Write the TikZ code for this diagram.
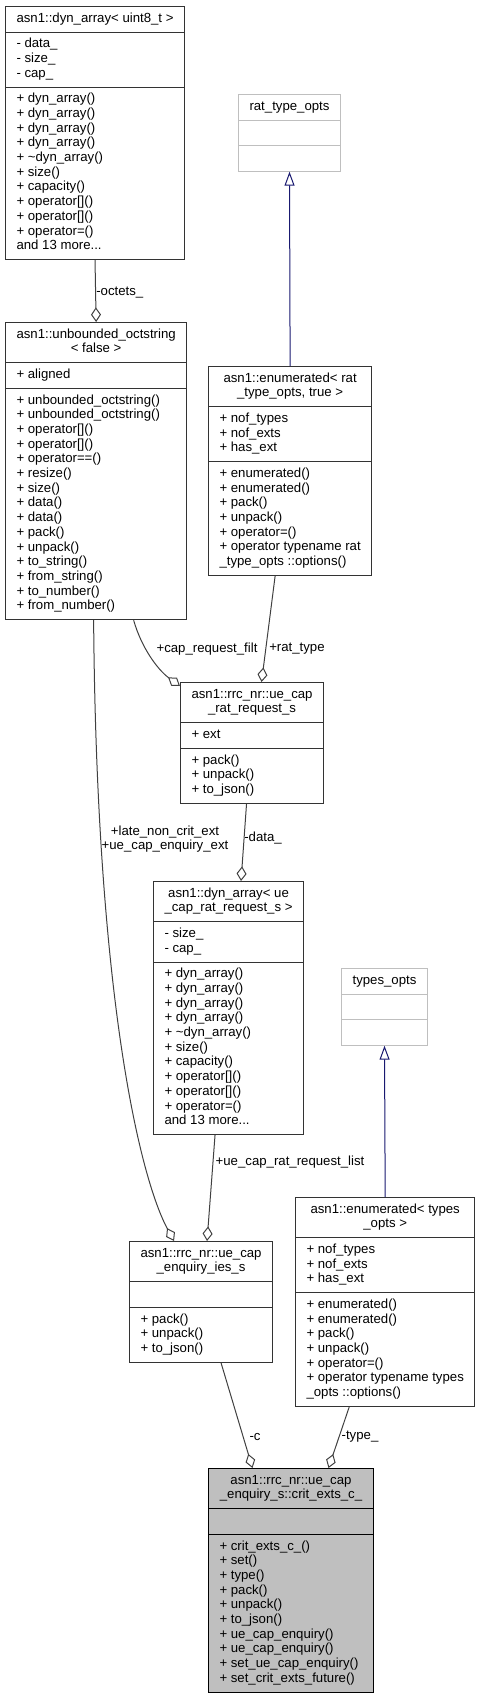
\documentclass[tikz,border=0pt]{standalone}
\usepackage{fontspec}
\setmainfont{Liberation Sans}
\usetikzlibrary{arrows.meta,calc,shapes.multipart}
\definecolor{edgegrey}{HTML}{404040}
\definecolor{inheritblue}{HTML}{191970}
\definecolor{basegrey}{HTML}{BFBFBF}

\def\px{0.75pt}
\newcommand{\clstitle}[1]{\begin{tabular}{@{}c@{}}#1\end{tabular}}
\newcommand{\clsrows}[1]{\begin{tabular}{@{}l@{}}#1\end{tabular}}

\tikzset{
  clsbox/.style={draw=black!80, line width=0.75pt, rectangle split, rectangle split parts=3,
    rectangle split part align={center,left,left}, inner xsep=8.25pt, inner ysep=3.7pt,
    anchor=north west, font=\fontsize{9.9}{11.025}\selectfont},
  basebox/.style={clsbox, draw=basegrey},
  focusbox/.style={clsbox, draw=black, fill=basegrey},
  member/.style={draw=edgegrey, line width=0.75pt, -{Diamond[open,length=11pt,width=7.5pt]}},
  inherit/.style={draw=inheritblue, line width=0.75pt, -{Triangle[open,length=10.5pt,width=7.5pt]}},
  elabel/.style={inner sep=0pt, font=\fontsize{9.9}{11.025}\selectfont}
}

\begin{document}
\begin{tikzpicture}[x=0.75pt, y=-0.75pt]
  \useasboundingbox (0,0) rectangle (479,1697);

  % classes
  \node[clsbox, minimum width=179*\px] (dyn8) at (5,6)
    {\clstitle{asn1::dyn\_array< uint8\_t >}
     \nodepart{two}\clsrows{- data\_\\- size\_\\- cap\_}
     \nodepart{three}\clsrows{+ dyn\_array()\\+ dyn\_array()\\+ dyn\_array()\\+ dyn\_array()\\+ \textasciitilde dyn\_array()\\+ size()\\+ capacity()\\+ operator[]()\\+ operator[]()\\+ operator=()\\and 13 more...}};

  \node[clsbox, minimum width=179*\px] (octstr) at (5,322)
    {\clstitle{asn1::unbounded\_octstring\\< false >}
     \nodepart{two}\clsrows{+ aligned}
     \nodepart{three}\clsrows{+ unbounded\_octstring()\\+ unbounded\_octstring()\\+ operator[]()\\+ operator[]()\\+ operator==()\\+ resize()\\+ size()\\+ data()\\+ data()\\+ pack()\\+ unpack()\\+ to\_string()\\+ from\_string()\\+ to\_number()\\+ from\_number()}};

  \node[basebox, minimum width=102*\px] (rattype) at (238,94)
    {\clstitle{rat\_type\_opts}
     \nodepart{two}\strut
     \nodepart{three}\strut};

  \node[clsbox, minimum width=162*\px] (enumrat) at (208,366)
    {\clstitle{asn1::enumerated< rat\\\_type\_opts, true >}
     \nodepart{two}\clsrows{+ nof\_types\\+ nof\_exts\\+ has\_ext}
     \nodepart{three}\clsrows{+ enumerated()\\+ enumerated()\\+ pack()\\+ unpack()\\+ operator=()\\+ operator typename rat\\\_type\_opts ::options()}};

  \node[clsbox, minimum width=141*\px] (ratreq) at (180,682)
    {\clstitle{asn1::rrc\_nr::ue\_cap\\\_rat\_request\_s}
     \nodepart{two}\clsrows{+ ext}
     \nodepart{three}\clsrows{+ pack()\\+ unpack()\\+ to\_json()}};

  \node[clsbox, minimum width=149*\px] (dynreq) at (153,881)
    {\clstitle{asn1::dyn\_array< ue\\\_cap\_rat\_request\_s >}
     \nodepart{two}\clsrows{- size\_\\- cap\_}
     \nodepart{three}\clsrows{+ dyn\_array()\\+ dyn\_array()\\+ dyn\_array()\\+ dyn\_array()\\+ \textasciitilde dyn\_array()\\+ size()\\+ capacity()\\+ operator[]()\\+ operator[]()\\+ operator=()\\and 13 more...}};

  \node[basebox, minimum width=86*\px] (typesopts) at (341,968)
    {\clstitle{types\_opts}
     \nodepart{two}\strut
     \nodepart{three}\strut};

  \node[clsbox, minimum width=142*\px] (ies) at (129,1241)
    {\clstitle{asn1::rrc\_nr::ue\_cap\\\_enquiry\_ies\_s}
     \nodepart{two}\strut
     \nodepart{three}\clsrows{+ pack()\\+ unpack()\\+ to\_json()}};

  \node[clsbox, minimum width=178*\px] (enumtypes) at (295,1197)
    {\clstitle{asn1::enumerated< types\\\_opts >}
     \nodepart{two}\clsrows{+ nof\_types\\+ nof\_exts\\+ has\_ext}
     \nodepart{three}\clsrows{+ enumerated()\\+ enumerated()\\+ pack()\\+ unpack()\\+ operator=()\\+ operator typename types\\\_opts ::options()}};

  \node[focusbox, minimum width=165*\px] (crit) at (208,1468)
    {\clstitle{asn1::rrc\_nr::ue\_cap\\\_enquiry\_s::crit\_exts\_c\_}
     \nodepart{two}\strut
     \nodepart{three}\clsrows{+ crit\_exts\_c\_()\\+ set()\\+ type()\\+ pack()\\+ unpack()\\+ to\_json()\\+ ue\_cap\_enquiry()\\+ ue\_cap\_enquiry()\\+ set\_ue\_cap\_enquiry()\\+ set\_crit\_exts\_future()}};

  % relations
  \draw[member] (dyn8.south) -- (octstr.north);
  \draw[inherit] (enumrat.north) -- (rattype.south);
  \draw[member] ($(enumrat.south)+(-15,0)$) -- ($(ratreq.north)+(9.5,0)$);
  \draw[member] ($(octstr.south)+(37.5,0)$) .. controls +(8,28) and +(-22,-16) .. ($(ratreq.north west)+(0,4)$);
  \draw[member] ($(ratreq.south)+(-5.5,0)$) -- ($(dynreq.north)+(12.5,0)$);
  \draw[member] ($(octstr.south)+(-2.5,0)$) .. controls +(3,383) and +(-33,-61) .. ($(ies.north)+(-27,0)$);
  \draw[member] ($(dynreq.south)+(-13.5,0)$) -- ($(ies.north)+(6,0)$);
  \draw[inherit] (enumtypes.north) -- (typesopts.south);
  \draw[member] ($(ies.south)+(20,0)$) -- ($(crit.north)+(-38.5,0)$);
  \draw[member] ($(enumtypes.south)+(-36,0)$) -- ($(crit.north)+(37.5,0)$);

  % labels
  \node[elabel, anchor=west] (loctets) at (96,293) {-octets\_};
  \node[elabel] (lfilt) at (207,649) {+cap\_request\_filt};
  \node[elabel, anchor=west] (lrattype) at (269,649) {+rat\_type};
  \node[elabel] (ldata) at (263,838) {-data\_};
  \node[elabel, align=center] (lext) at (165,839) {+late\_non\_crit\_ext\\+ue\_cap\_enquiry\_ext};
  \node[elabel] (llist) at (290,1162) {+ue\_cap\_rat\_request\_list};
  \node[elabel] (lc) at (255,1437) {-c};
  \node[elabel] (ltype) at (360,1437) {-type\_};
\end{tikzpicture}
\end{document}
